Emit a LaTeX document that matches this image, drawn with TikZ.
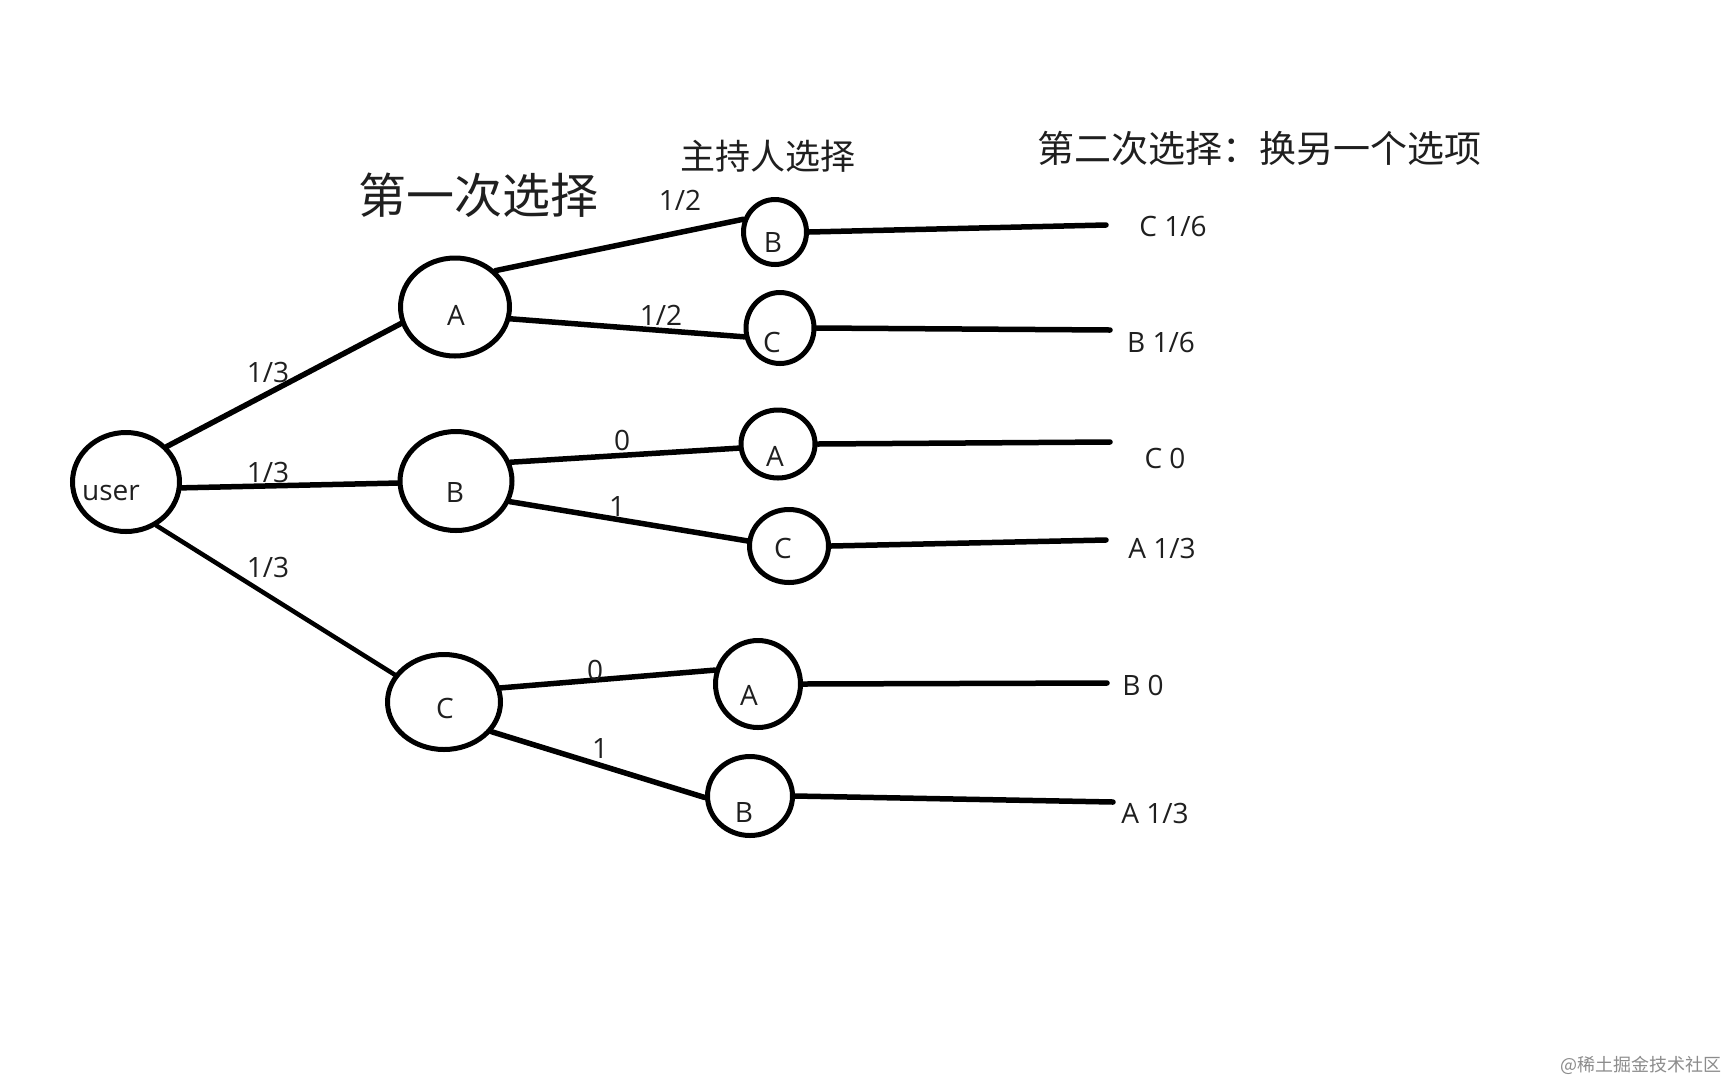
\documentclass[tikz,border=0pt]{standalone}
\usepackage{fontspec}
\newfontfamily\cjkf{Noto Sans CJK SC}
\newfontfamily\latf{Open Sans}
\usetikzlibrary{shapes.geometric}
\tikzset{
  ell/.style={draw, ellipse, line width=5pt, inner sep=0pt},
  lbl/.style={font=\latf\fontsize{28}{32}\selectfont, inner sep=0pt, text=black!88},
  edge/.style={line width=5.5pt, line cap=round},
  ttl/.style={font=\cjkf, inner sep=0pt, text=black!88},
}
\begin{document}
\begin{tikzpicture}[x=1pt,y=-1pt]
\useasboundingbox[fill=white] (0,0) rectangle (1728,1080);
% titles
\node[ttl, font=\cjkf\fontsize{48}{52}\selectfont] (t1) at (478,195) {第一次选择};
\node[ttl, font=\cjkf\fontsize{35}{40}\selectfont] (t2) at (768,156) {主持人选择};
\node[ttl, font=\cjkf\fontsize{37}{42}\selectfont] (t3) at (1259,148) {第二次选择：换另一个选项};
% root
\node[ell, minimum width=107pt, minimum height=99pt] (U) at (126,482) {};
\node[lbl] (Ut) at (111,493) {user};
% level 1
\node[ell, minimum width=109pt, minimum height=98pt] (A1) at (455,307) {};
\node[lbl] (A1t) at (456,315) {A};
\node[ell, minimum width=112pt, minimum height=99pt] (B1) at (456,481) {};
\node[lbl] (B1t) at (455,492) {B};
\node[ell, minimum width=113pt, minimum height=95pt] (C1) at (444,702) {};
\node[lbl] (C1t) at (445,708) {C};
% level 2
\node[ell, minimum width=63pt, minimum height=65pt] (n1) at (775,232) {};
\node[lbl] (n1t) at (773,242) {B};
\node[ell, minimum width=68pt, minimum height=71pt] (n2) at (780,328) {};
\node[lbl] (n2t) at (772,342) {C};
\node[ell, minimum width=74pt, minimum height=68pt] (n3) at (778,444) {};
\node[lbl] (n3t) at (775,456) {A};
\node[ell, minimum width=79pt, minimum height=73pt] (n4) at (789,546) {};
\node[lbl] (n4t) at (783,548) {C};
\node[ell, minimum width=85pt, minimum height=87pt] (n5) at (758,684) {};
\node[lbl] (n5t) at (749,695) {A};
\node[ell, minimum width=85pt, minimum height=79pt] (n6) at (750,796) {};
\node[lbl] (n6t) at (744,812) {B};
% connectors level 0 -> 1
\draw[edge] (U.41) -- (A1.197);
\draw[edge] (U.354) -- (B1.182);
\draw[edge, line width=4.5pt] (U.305) -- (C1.151);
% level 1 -> 2
\draw[edge] (A1.42) -- (n1.158);
\draw[edge] (A1.348) -- (n2.194);
\draw[edge] (B1.19) -- (n3.186);
\draw[edge] (B1.339) -- (n4.173);
\draw[edge] (C1.14) -- (n5.162);
\draw[edge] (C1.328) -- (n6.182);
% edge labels
\node[lbl] (l1) at (268,372) {1/3};
\node[lbl] (l2) at (268,472) {1/3};
\node[lbl] (l3) at (268,567) {1/3};
\node[lbl] (l4) at (680,200) {1/2};
\node[lbl] (l5) at (661,315) {1/2};
\node[lbl] (l6) at (622,440) {0};
\node[lbl] (l7) at (617,506) {1};
\node[lbl] (l8) at (595,670) {0};
\node[lbl] (l9) at (600,748) {1};
% right ends
\coordinate (e1) at (1106,225);
\coordinate (e2) at (1110,330);
\coordinate (e3) at (1110,442);
\coordinate (e4) at (1106,540);
\coordinate (e5) at (1107,683);
\coordinate (e6) at (1113,802);
\draw[edge] (n1.east) -- (e1);
\draw[edge] (n2.east) -- (e2);
\draw[edge] (n3.east) -- (e3);
\draw[edge] (n4.east) -- (e4);
\draw[edge] (n5.east) -- (e5);
\draw[edge] (n6.east) -- (e6);
\node[lbl] (r1) at (1173,226) {C 1/6};
\node[lbl] (r2) at (1161,342) {B 1/6};
\node[lbl] (r3) at (1165,458) {C 0};
\node[lbl] (r4) at (1162,548) {A 1/3};
\node[lbl] (r5) at (1143,685) {B 0};
\node[lbl] (r6) at (1155,813) {A 1/3};
% watermark
\node[font=\cjkf\fontsize{18}{20}\selectfont, text=black!45, inner sep=0pt] (wm) at (1641,1065) {@稀土掘金技术社区};
\end{tikzpicture}
\end{document}
